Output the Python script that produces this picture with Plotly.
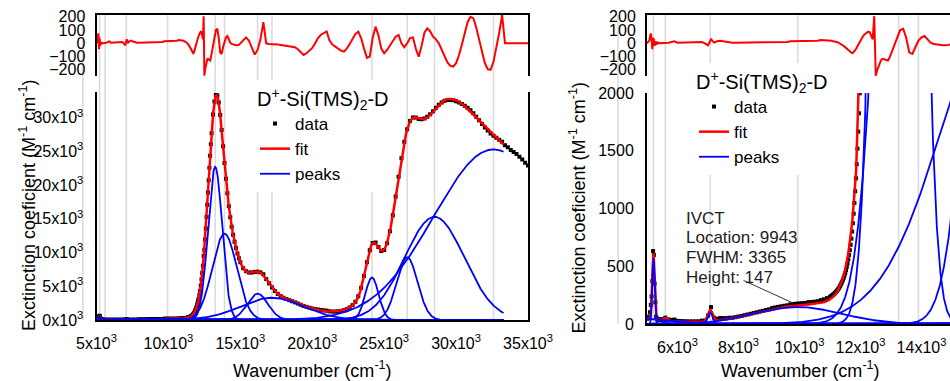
import numpy as np
import plotly.graph_objects as go

W, H = 950, 381
FONT = "Liberation Sans, Arial, sans-serif"

# ---------------- data ----------------
# Gaussian peaks of the fit: centre (cm-1), FWHM (cm-1), height (M-1 cm-1)
PEAK_CENTER = [4050, 5210, 5600, 7070, 9943, 13250, 13900, 16200, 17200, 24150, 26600, 28500, 32600]
PEAK_FWHM   = [3000,   90,  150,  180, 3365,  1150,  2000,  1700,  5200,  1100,  1700,  4875,  9800]
PEAK_HEIGHT = [  60,  570,   25,  100,  147, 22700, 12800,  3900,  3300,  6300,  9300, 15300, 25300]
FIT_START, FIT_END, FIT_STEP = 5000, 33300, 10

# residual (data - fit), in segments (start, step, values)
RESID_A = (5000, 25, [0, 5, 10, 20, 50, 75, 30, -45, 40, 30, -20, 15, -10, 5, 0, 5, 0, 0, 5, 0, 0])
RESID_B = (5600, 100, [0, 5, 10, 15, 5, 5, 5, 5, 5, 5, 5, 5, 10, 0,
                       -15, 30, 5, 15, 20, 15, 10, 10, 5, 5,
                       5, 5, 5, 5, 5, 5, 5, 5, 5, 5,
                       5, 10, 10, 10, 10, 10, 10, 15, 15, 15,
                       15, 15, 15, 20, 20, 20, 20, 25, 25, 25, 20])
RESID_C = (11025, 25, [20, 20, 18, 17, 16, 15, 15, 12, 10, 8, 5, 2, 0, -3, -6, -10,
                       -15, -20, -25, -30, -35, -40, -45, -50, -55, -62, -68, -73,
                       -75, -73, -68, -60, -52, -43, -33, -22, -10, 0, 10, 22, 33, 43, 52, 60])
RESID_D = (12150, 50, [70, 80, 88, 85, 60, 30, 205, -245, -200, -165, -140, -120,
                       -118, -122, -127, -130, -110, -80])
RESID_E = (13100, 100, [-20, 50, 100, 110, 40, -70, -80, -30, 20, 45, 55, 30, 5, -5,
                        -10, -12, -15, -15, -12, 0])
RESID_F = (15200, 200, [20, 45, 20, -40, -85, -50, 30, 160, 0, -5, -5, -5, -8, -12, -15,
                        -18, -22, -26, -30, -45, -70, -88, -75, -55, -35, 0, 40, 65, 80,
                        90, 20, -10, -25, -40, -55, -63, -40, -5, 35, 70, 88, 40, -40,
                        -110, -100, 40, 126, 60, -40, -76, -50, -15, 20, 50, 63, 0, -30,
                        0, 40, 45, -40, -101, -20, 80, 113, 90, 50, 30, 0, -50, -100,
                        -145, -170, -176, -150, -90, -10, 80, 160, 200, 190, 120, 30,
                        -70, -150, -195, -200, -140, -40, 80, 214])
# measured data beyond the end of the fit (no residual there)
DATA_TAIL = (33400, 200, [25900, 25600, 25200, 24900, 24600, 24200, 23800, 23300, 22900])
RESID_TAIL = [0, 0, 0, 0, 0, 0, 0, 0, 0]

IVCT_LINES = ["IVCT", "Location: 9943", "FWHM: 3365", "Height: 147"]
LEGEND_TITLE = "D<sup>+</sup>-Si(TMS)<sub>2</sub>-D"
LEFT_XTICKS = [5000, 10000, 15000, 20000, 25000, 30000, 35000]
LEFT_YTICKS = [0, 5000, 10000, 15000, 20000, 25000, 30000]
RIGHT_XTICKS = [6000, 8000, 10000, 12000, 14000]
RIGHT_YTICKS = [0, 500, 1000, 1500, 2000]
RESID_TICKS = [-200, -100, 0, 100, 200]

# ---------------- derived series ----------------
def gauss(x, c, w, h):
    return h * np.exp(-4 * np.log(2) * ((x - c) / w) ** 2)

def fit_at(x):
    return sum(gauss(x, c, w, h) for c, w, h in zip(PEAK_CENTER, PEAK_FWHM, PEAK_HEIGHT))

seg_wn, seg_res = [], []
for start, step, vals in [RESID_A, RESID_B, RESID_C, RESID_D, RESID_E, RESID_F]:
    seg_wn.append(start + step * np.arange(len(vals)))
    seg_res.append(np.array(vals, float))
seg_wn = np.concatenate(seg_wn)
seg_res = np.concatenate(seg_res)
tail_wn = DATA_TAIL[0] + DATA_TAIL[1] * np.arange(len(DATA_TAIL[2]))

data_wn = np.concatenate([seg_wn, tail_wn])
data_val = np.concatenate([fit_at(seg_wn) + seg_res, np.array(DATA_TAIL[2], float)])
res_wn = data_wn
res_val = np.concatenate([seg_res, np.array(RESID_TAIL, float)])

grid = np.arange(FIT_START, FIT_END + 1, FIT_STEP)
fit_val = fit_at(grid)

# ---------------- layout geometry (pixels -> paper) ----------------
def px_x(p):
    return p / W

def px_y(p):
    return 1 - p / H

L_X = [px_x(96.5), px_x(528)]
R_X = [px_x(647), 1.0]
RES_Y = [px_y(76), px_y(15)]
LM_Y = [px_y(320), px_y(92)]
RM_Y = [px_y(324), px_y(93)]
L_RANGE = [5000, 35000]
R_RANGE = [5000, 14934]

fig = go.Figure()

def add_panel(xr, yr, xm, ym, legend):
    fig.add_trace(go.Scatter(x=data_wn, y=data_val, mode="markers", name="data",
                             marker=dict(symbol="square", size=4, color="black"),
                             xaxis=xm, yaxis=ym, legend=legend))
    fig.add_trace(go.Scatter(x=grid, y=fit_val, mode="lines", name="fit",
                             line=dict(color="#ff0000", width=2.5),
                             xaxis=xm, yaxis=ym, legend=legend))
    for i, (c, w, h) in enumerate(zip(PEAK_CENTER, PEAK_FWHM, PEAK_HEIGHT)):
        fig.add_trace(go.Scatter(x=grid, y=gauss(grid, c, w, h), mode="lines", name="peaks",
                                 line=dict(color="#0000ff", width=1.8),
                                 showlegend=(i == 0),
                                 xaxis=xm, yaxis=ym, legend=legend))
    fig.add_trace(go.Scatter(x=res_wn, y=res_val, mode="lines", showlegend=False,
                             line=dict(color="#ff0000", width=2),
                             xaxis=xr, yaxis=yr))

add_panel("x", "y", "x2", "y2", "legend")
add_panel("x3", "y3", "x4", "y4", "legend2")

axis_common = dict(showgrid=False, zeroline=False, ticks="", linecolor="black",
                   linewidth=2, automargin=False, tickfont=dict(size=16, color="black", family=FONT))

def sci(v):
    return f"{v // 1000}x10<sup>3</sup>"

legend_common = dict(xanchor="left", yanchor="top", bgcolor="white", borderwidth=0,
                     font=dict(size=17, family=FONT, color="black"),
                     title=dict(text=LEGEND_TITLE, font=dict(size=20, family=FONT)),
                     itemsizing="trace", tracegroupgap=0, traceorder="normal")

fig.update_layout(
    width=W, height=H, template="none",
    margin=dict(l=0, r=0, t=0, b=0),
    paper_bgcolor="white", plot_bgcolor="rgba(0,0,0,0)",
    font=dict(family=FONT, color="black", size=16),
    # left residual
    xaxis=dict(domain=L_X, range=L_RANGE, anchor="y", side="top", showline=True,
               showticklabels=False, **axis_common),
    yaxis=dict(domain=RES_Y, range=[-247, 214], anchor="x", showline=True, mirror=True,
               tickvals=RESID_TICKS, ticklabelstandoff=6, **axis_common),
    # left main
    xaxis2=dict(domain=L_X, range=L_RANGE, anchor="y2", showline=True,
                tickvals=LEFT_XTICKS, ticktext=[sci(v) for v in LEFT_XTICKS],
                ticklabelstandoff=8, **axis_common),
    yaxis2=dict(domain=LM_Y, range=[0, 33800], anchor="x2", showline=True, mirror=True,
                tickvals=LEFT_YTICKS, ticktext=[sci(v) for v in LEFT_YTICKS],
                ticklabelstandoff=8, **axis_common),
    # right residual
    xaxis3=dict(domain=R_X, range=R_RANGE, anchor="y3", side="top", showline=True,
                showticklabels=False, **axis_common),
    yaxis3=dict(domain=RES_Y, range=[-247, 214], anchor="x3", showline=True,
                tickvals=RESID_TICKS, ticklabelstandoff=6, **axis_common),
    # right main
    xaxis4=dict(domain=R_X, range=R_RANGE, anchor="y4", showline=True,
                tickvals=RIGHT_XTICKS, ticktext=[sci(v) for v in RIGHT_XTICKS],
                ticklabelstandoff=8, **axis_common),
    yaxis4=dict(domain=RM_Y, range=[0, 2000], anchor="x4", showline=True,
                tickvals=RIGHT_YTICKS, ticklabelstandoff=8, **axis_common),
    legend=dict(x=px_x(255), y=px_y(80), **legend_common),
    legend2=dict(x=px_x(694), y=px_y(63), **legend_common),
)

# gray marker lines at the peak centres (placed through the axis domain/range mapping)
def wn_to_paper(v, dom, rng):
    return dom[0] + (v - rng[0]) / (rng[1] - rng[0]) * (dom[1] - dom[0])

shapes = []
for c in PEAK_CENTER:
    xl = wn_to_paper(c, L_X, L_RANGE)
    shapes.append(dict(type="line", xref="paper", yref="paper", x0=xl, x1=xl,
                       y0=LM_Y[0], y1=RES_Y[1], layer="below",
                       line=dict(color="#dadada", width=1.5)))
    xr = wn_to_paper(c, R_X, R_RANGE)
    if xr < 1:
        shapes.append(dict(type="line", xref="paper", yref="paper", x0=xr, x1=xr,
                           y0=RM_Y[0], y1=RES_Y[1], layer="below",
                           line=dict(color="#dadada", width=1.5)))
fig.update_layout(shapes=shapes)

ytitle = "Exctinction coeficient (M<sup>-1</sup> cm<sup>-1</sup>)"
xtitle = "Wavenumber (cm<sup>-1</sup>)"
annos = [
    dict(text=ytitle, x=px_x(27), y=(LM_Y[0] + LM_Y[1]) / 2, xref="paper", yref="paper",
         textangle=-90, showarrow=False, font=dict(size=18), xanchor="center", yanchor="middle"),
    dict(text=ytitle, x=px_x(578), y=(RM_Y[0] + RM_Y[1]) / 2, xref="paper", yref="paper",
         textangle=-90, showarrow=False, font=dict(size=18), xanchor="center", yanchor="middle"),
    dict(text=xtitle, x=(L_X[0] + L_X[1]) / 2, y=px_y(369), xref="paper", yref="paper",
         showarrow=False, font=dict(size=18), xanchor="center", yanchor="middle"),
    dict(text=xtitle, x=px_x(800), y=px_y(369), xref="paper", yref="paper",
         showarrow=False, font=dict(size=18), xanchor="center", yanchor="middle"),
    dict(text="", x=9800, y=180, xref="x4", yref="y4", ax=8115, ay=383,
         axref="x4", ayref="y4", showarrow=True, arrowhead=0, arrowwidth=1,
         arrowcolor="#333333"),
]
for i, line in enumerate(IVCT_LINES):
    annos.append(dict(text=line, x=px_x(684), y=px_y(218 + 19.7 * i), xref="paper", yref="paper",
                      showarrow=False, align="left", xanchor="left", yanchor="middle",
                      font=dict(size=17, color="#222222")))
fig.update_layout(annotations=annos)

fig.write_html("out.html")
